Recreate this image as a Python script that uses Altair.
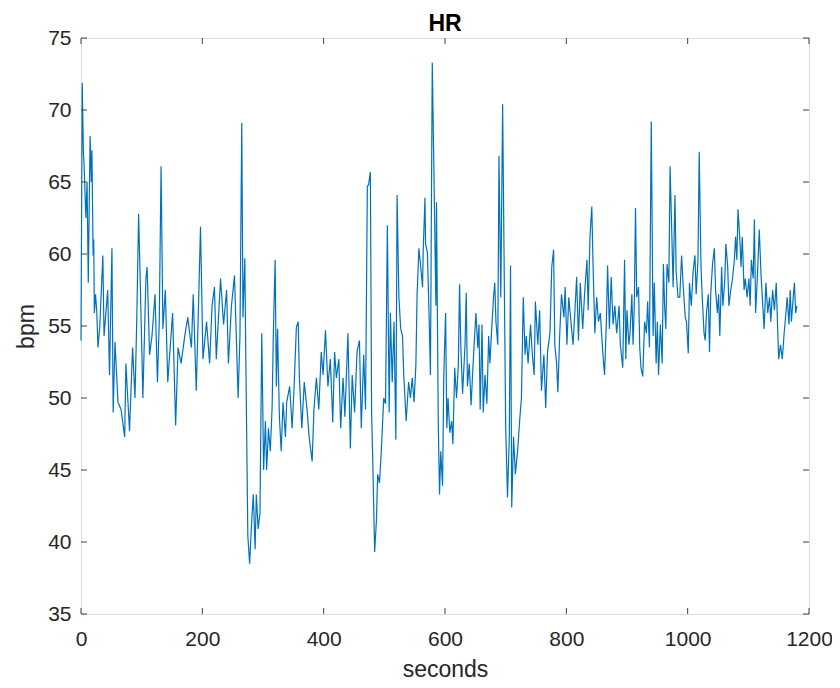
import altair as alt
import pandas as pd

seconds = [
    0, 2, 4, 5, 8, 10, 12, 15, 17, 18, 20, 21, 22, 24, 26, 28, 31, 36, 38, 44, 47, 51, 53, 56, 61, 66,
    72, 74, 80, 85, 89, 92, 95, 98, 102, 107, 109, 113, 117, 122, 126, 129, 132, 135, 139, 143, 151,
    156, 160, 165, 171, 176, 182, 185, 190, 193, 197, 201, 207, 212, 216, 220, 223, 230, 235, 240,
    243, 248, 253, 259, 262, 265, 267, 270, 272, 275, 278, 281, 284, 287, 289, 292,
    295, 298, 301, 304, 306, 309, 312, 315, 317, 320, 322, 324, 327, 330, 333, 337, 339, 344, 348,
    351, 355, 358, 360, 364, 368, 373, 376, 381, 384, 388, 392, 396, 399, 403, 407, 411, 415, 418,
    421, 425, 428, 432, 435, 440, 444, 447, 451, 455, 459, 462, 466, 469, 472, 474, 477, 479, 481,
    484, 487, 489, 492, 495, 499, 502, 505, 508, 510, 513, 516, 519, 521, 524, 527, 530, 532, 536,
    540, 543, 546, 549, 552, 554, 557, 560, 563, 564, 567, 568, 571, 574, 576, 579, 582, 585, 586,
    589, 591,
    593, 596, 598, 601, 603, 605, 608, 611, 613, 616, 619, 622, 624, 626, 629, 633, 635, 637, 640,
    643, 646, 648, 651, 654, 656, 658, 661, 663, 666, 669, 672, 674, 677, 680, 682, 684, 687, 689,
    692, 695, 698, 700, 703, 706, 708, 710, 713, 716, 720, 723, 726, 729, 732, 734, 737, 741, 744,
    747, 749, 753, 756, 759, 763, 766, 769, 773, 776, 779, 781, 784, 786, 789, 792, 796, 798, 801,
    804, 808, 811, 814, 817, 820, 823, 827, 830, 834, 836, 839, 842, 844, 847, 850, 853, 856, 860,
    863, 866, 868, 871, 874, 877, 880, 883, 887, 889,
    893, 896, 898, 900, 903, 905, 908, 910, 912, 914, 916, 919, 921, 923, 926, 929, 932, 934, 937,
    940, 943, 945, 948, 950, 952, 955, 958, 960, 962, 964, 966, 969, 971, 974, 976, 979, 981, 984,
    987, 990, 993, 996, 998, 1001, 1003, 1006, 1009, 1012, 1014, 1017, 1019, 1022, 1024, 1027, 1029,
    1031, 1034, 1036, 1038, 1041, 1044, 1046, 1049, 1051, 1053, 1056, 1058, 1061, 1063, 1066, 1068,
    1071, 1074, 1077, 1079, 1081, 1083, 1086, 1088, 1090, 1093, 1095, 1098, 1101, 1103, 1105, 1108,
    1110, 1112, 1115, 1118, 1121, 1123, 1126, 1129, 1132, 1135, 1137, 1140, 1143, 1146, 1148, 1150,
    1153, 1156, 1159, 1162, 1164, 1167, 1169, 1171, 1174, 1176, 1178, 1180,
]

bpm = [
    54.0, 71.9, 67.0, 66.3, 62.5, 65.0, 58.0, 68.2, 65.0, 67.2, 59.9, 61.0, 55.9, 57.2, 56.0, 53.5,
    55.0, 59.9, 54.3, 57.5, 51.6, 60.4, 49.0, 53.9, 49.7, 49.2,
    47.3, 52.4, 47.7, 53.5, 50.0, 55.6, 62.8, 57.5, 50.0, 58.3, 59.1, 53.0, 54.3, 57.2, 51.1, 55.3,
    66.1, 54.8, 57.5, 51.1, 55.9,
    48.1, 53.5, 52.4, 54.3, 55.6, 53.5, 57.2, 50.5, 55.3, 61.9, 52.7, 55.3, 52.4, 56.4, 57.7, 52.7,
    58.3, 55.1, 57.5,
    52.4, 56.4, 58.5, 50.0, 54.3, 69.1, 55.6, 59.7, 51.6, 40.4, 38.5, 41.2, 43.3, 39.5, 43.3, 40.9,
    42.0, 54.5, 45.0, 48.4, 45.0, 47.9, 46.3, 49.3, 54.3, 59.6, 50.8, 54.8, 48.7, 46.3, 49.7, 47.3,
    49.7, 50.8, 47.9,
    50.5, 54.9, 55.3, 51.4, 47.9, 51.1, 49.0, 47.3, 45.6, 49.2, 51.4, 49.2, 53.2, 51.6, 54.7, 50.8,
    52.7, 48.3, 53.2,
    51.4, 52.7, 47.9, 51.4, 48.7, 54.5, 46.5, 51.6, 49.0, 53.2, 54.0, 47.9, 53.0, 49.2, 64.7, 64.8,
    65.7, 49.0, 45.5,
    39.3, 41.5, 44.7, 44.1, 46.3, 50.0, 49.6, 62.0, 49.0, 55.9, 51.1, 55.3, 47.1, 64.1, 57.0, 54.8,
    54.3, 51.6, 48.4,
    51.1, 50.0, 51.4, 49.7, 52.3, 57.2, 60.4, 59.1, 57.7, 60.1, 63.9, 60.7, 60.1, 55.3, 51.6, 73.3,
    65.0, 56.4, 63.6,
    47.9, 43.3,
    46.3, 43.9, 51.6, 55.9, 47.9, 50.0, 47.6, 48.4, 46.8, 52.1, 50.0, 52.3, 57.9, 53.7, 50.3, 53.7,
    57.3, 50.8, 52.4,
    49.5, 52.1, 53.7, 55.9, 53.5, 55.1, 49.2, 55.1, 49.0, 51.6, 49.6, 54.3, 52.4, 54.8, 57.0, 58.0,
    55.3, 53.7, 66.8,
    57.0, 70.4, 57.0, 48.1, 43.1, 47.3, 59.2, 42.4, 47.3, 44.7, 46.5, 48.4, 50.0, 57.0, 53.0, 54.3,
    52.4, 55.1, 53.0,
    51.6, 56.7, 53.7, 56.1, 50.5, 53.0, 49.3, 53.2, 54.5, 59.1, 60.3, 53.7, 52.4, 50.4, 54.3, 57.2,
    55.6, 57.7, 53.7,
    57.0, 55.1, 53.7, 55.9, 58.4, 54.0, 58.0, 54.8, 57.2, 59.6, 56.1, 61.2, 63.3, 59.3, 54.5, 57.0,
    55.3, 55.9, 53.2,
    51.6, 55.3, 59.2, 54.8, 58.4, 55.1, 56.4, 54.5, 56.4, 53.7,
    52.1, 59.6, 52.7, 56.1, 53.7, 54.5, 57.2, 53.7, 56.4, 63.2, 57.0, 57.7, 53.5, 52.1, 51.5, 55.3,
    54.5, 56.7, 53.5,
    69.2, 54.3, 58.0, 52.4, 55.3, 51.6, 55.1, 52.4, 59.3, 56.4, 54.8, 59.3, 58.0, 66.1, 61.2, 57.7,
    64.1, 58.8, 57.0,
    57.0, 59.9, 57.5, 55.6, 55.3, 53.1, 58.0, 56.4, 58.8, 59.9, 57.2, 59.6, 67.1, 59.1, 57.0, 54.5,
    54.0,
    55.9, 57.2, 53.2, 57.2, 59.3, 60.4, 57.5, 55.9, 57.2, 54.3, 59.1, 56.4, 58.0, 60.7, 59.1, 56.4,
    57.5, 58.3, 59.6, 61.2, 59.6, 63.1, 61.0, 59.1, 61.2, 57.5, 58.3, 57.0, 58.3, 56.4, 59.6, 58.3,
    62.4, 55.9, 58.5, 61.7, 58.5, 57.0, 54.8, 58.0, 55.9, 57.0, 55.3, 57.5, 56.1, 58.0, 55.3, 52.7,
    53.7, 52.7, 54.5, 55.9, 57.0, 55.1, 57.5, 55.3, 57.0, 58.0, 55.9, 56.4,
]

x_ticks = [0, 200, 400, 600, 800, 1000, 1200]
y_ticks = [35, 40, 45, 50, 55, 60, 65, 70, 75]

assert len(seconds) == len(bpm), (len(seconds), len(bpm))

W, H = 728, 576
TEXT = "#262626"
FONT = "Liberation Sans"

df = pd.DataFrame({"seconds": seconds, "bpm": bpm})
xt = pd.DataFrame({"t": x_ticks})
yt = pd.DataFrame({"v": y_ticks})

xscale = alt.Scale(domain=[0, 1200], nice=False, zero=False)
yscale = alt.Scale(domain=[35, 75], nice=False, zero=False)

line = alt.Chart(df).mark_line(color="#0072BD", strokeWidth=1.2).encode(
    x=alt.X("seconds:Q", scale=xscale,
            axis=alt.Axis(values=x_ticks, format="d", title="seconds", tickSize=0, domain=False,
                          grid=False, labelFontSize=21, labelPadding=14, labelColor=TEXT,
                          labelFlush=False, labelOverlap=False,
                          titleFontSize=23, titleFontWeight="normal", titleColor=TEXT,
                          titlePadding=9, labelFont=FONT, titleFont=FONT)),
    y=alt.Y("bpm:Q", scale=yscale,
            axis=alt.Axis(values=y_ticks, format="d", title="bpm", tickSize=0, domain=False,
                          grid=False, labelFontSize=21, labelPadding=10, labelColor=TEXT,
                          labelFlush=False, labelOverlap=False,
                          titleFontSize=23, titleFontWeight="normal", titleColor=TEXT,
                          titlePadding=9, labelFont=FONT, titleFont=FONT)),
)

TL = 6
tick_style = dict(color="#404040", strokeWidth=1)
xb = alt.Chart(xt).mark_rule(**tick_style).encode(
    x=alt.X("t:Q", scale=xscale), y=alt.value(H), y2=alt.value(H - TL))
xtop = alt.Chart(xt).mark_rule(**tick_style).encode(
    x=alt.X("t:Q", scale=xscale), y=alt.value(0), y2=alt.value(TL))
yl = alt.Chart(yt).mark_rule(**tick_style).encode(
    y=alt.Y("v:Q", scale=yscale), x=alt.value(0), x2=alt.value(TL))
yr = alt.Chart(yt).mark_rule(**tick_style).encode(
    y=alt.Y("v:Q", scale=yscale), x=alt.value(W), x2=alt.value(W - TL))

chart = alt.layer(line, xb, xtop, yl, yr).properties(
    width=W, height=H,
    title=alt.TitleParams("HR", fontSize=23, fontWeight="bold", color="#000000", font=FONT,
                          frame="group", anchor="middle", offset=4, dy=13),
    autosize=alt.AutoSizeParams(type="none"),
    padding={"left": 73, "top": 30, "right": 23, "bottom": 74},
).configure_view(stroke="#404040", strokeWidth=1).configure(background="white")

chart.save("out.html", embed_options={"renderer": "svg", "actions": False})
